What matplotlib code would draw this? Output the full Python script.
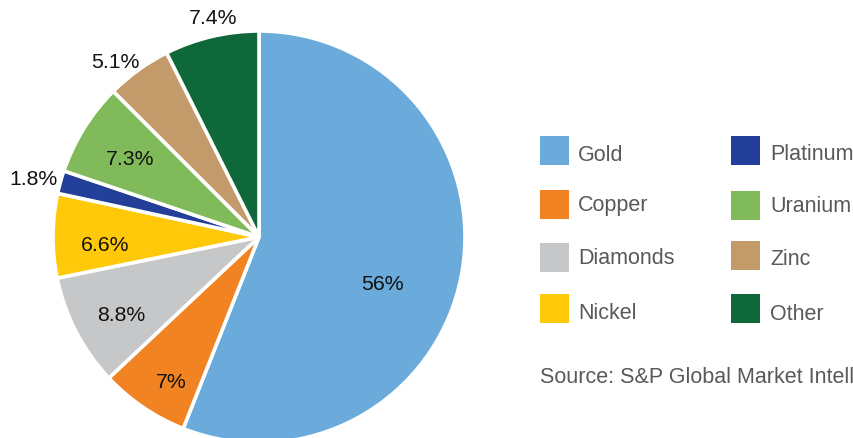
import numpy as np
import matplotlib
matplotlib.use("Agg")
import matplotlib.pyplot as plt
from matplotlib.patches import Rectangle

# ---- data ----
categories = ["Gold", "Copper", "Diamonds", "Nickel", "Platinum", "Uranium", "Zinc", "Other"]
shares = [56, 7, 8.8, 6.6, 1.8, 7.3, 5.1, 7.4]
labels = ["56%", "7%", "8.8%", "6.6%", "1.8%", "7.3%", "5.1%", "7.4%"]
colors = ["#6AABDB", "#F28322", "#C6C7C9", "#FFC90A", "#233F99", "#80BA5A", "#C39A69", "#0F6839"]
source = "Source: S&P Global Market Intelligence"

# ---- layout (pixels) ----
W, H = 854, 439
cx, cy, R = 259, 238, 206
label_r = [0.64, 0.82, 0.77, 0.75, 1.13, 0.73, 1.10, 1.09]
label_dang = [-10.0, 3.0, 2.0, 3.0, 1.0, 0.5, 3.5, -1.5]
# legend: (square x, square top y, text x, text center y)
leg_pos = [(540, 137, 578, 156), (540, 191, 578, 206), (540, 244, 578, 259), (540, 295, 578, 314),
           (731, 137, 770, 155), (731, 192, 770, 207), (731, 242, 770, 260), (731, 295, 770, 315)]

plt.rcParams['font.family'] = ['Liberation Sans', 'DejaVu Sans']
fig = plt.figure(figsize=(W / 100, H / 100), dpi=100)
ax = fig.add_axes([(cx - R) / W, (H - cy - R) / H, 2 * R / W, 2 * R / H])
wedges, _ = ax.pie(shares, colors=colors, startangle=90, counterclock=False, radius=1,
                   wedgeprops=dict(edgecolor="white", linewidth=2.6))
ax.set_xlim(-1, 1)
ax.set_ylim(-1, 1)
ax.axis("off")

for w, lab, r, da in zip(wedges, labels, label_r, label_dang):
    ang = np.deg2rad((w.theta1 + w.theta2) / 2 + da)
    ax.text(r * np.cos(ang), r * np.sin(ang), lab, ha="center", va="center",
            fontsize=15.3, color="#111111", clip_on=False)

for cat, col, (sx, sy, tx, ty) in zip(categories, colors, leg_pos):
    fig.patches.append(Rectangle((sx / W, 1 - (sy + 29) / H), 29 / W, 29 / H,
                                 transform=fig.transFigure, facecolor=col, edgecolor="none"))
    fig.text(tx / W, 1 - ty / H, cat, ha="left", va="center", fontsize=15.5, color="#595959")

fig.text(540 / W, 1 - 378 / H, source, ha="left", va="center", fontsize=15.5, color="#595959")

fig.savefig("out.png", dpi=100)
